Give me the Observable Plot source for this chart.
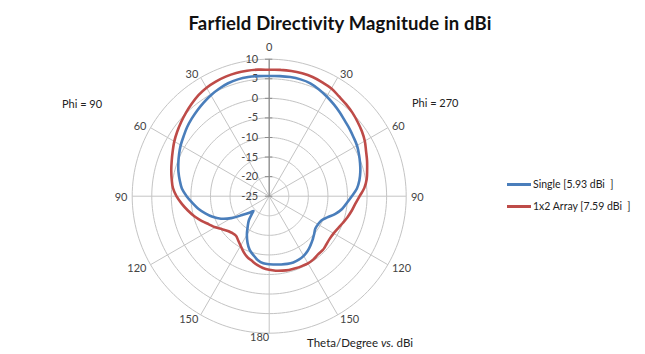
<!DOCTYPE html>
<html>
<head>
<meta charset="utf-8">
<script src="https://cdn.jsdelivr.net/npm/d3@7"></script>
<script src="https://cdn.jsdelivr.net/npm/@observablehq/plot@0.6"></script>
<style>
  body { margin: 0; background: #fff; }
  #chart { position: relative; width: 645px; height: 354px; overflow: hidden; font-family: Lato, "Open Sans", sans-serif; color: #222; }
  #chart svg { position: absolute; left: 0; top: 0; }
  .lbl { position: absolute; white-space: pre; font-size: 11px; line-height: 1; }
  .title { position: absolute; left: 0; width: 680px; text-align: center; top: 12px; font-size: 18.5px; letter-spacing: 0.15px; font-weight: 700; color: #111; }
  .legend { position: absolute; left: 507px; font-size: 10.5px; white-space: pre; line-height: 1; }
  .legend .sw { display: inline-block; width: 24px; height: 2.6px; vertical-align: middle; margin-right: 2px; position: relative; top: -1px; }
</style>
</head>
<body>
<div id="chart"></div>
<script>
// Elevation angle theta (degrees from boresight) for both phi cuts
const theta = [0, 5, 10, 15, 20, 25, 30, 35, 40, 45, 50, 55, 60, 65, 70, 75, 80, 85, 90,
  95, 100, 105, 110, 115, 120, 125, 130, 133, 135, 140, 145, 150, 155, 160, 165, 170, 175, 180];

// Directivity (dBi), Phi = 270 cut (right half) and Phi = 90 cut (left half)
const singlePhi270 = [5.7, 5.8, 5.9, 5.9, 5.7, 5.1, 4.4, 3.7, 3.0, 2.3, 1.8, 1.3, 0.9, 0.3, -0.3, -0.9, -1.6, -2.5, -3.9,
  -5.1, -6.1, -7.5, -9.2, -10.3, -10.6, -10.6, -10.0, -9.6, -9.3, -8.6, -7.9, -7.4, -7.1, -7.0, -7.1, -7.3, -7.5, -7.6];
const singlePhi90 = [5.7, 5.8, 5.9, 5.9, 5.7, 5.3, 4.8, 4.2, 3.6, 3.0, 2.4, 1.7, 1.1, 0.4, -0.3, -1.0, -1.8, -2.6, -3.9,
  -5.3, -6.6, -8.1, -9.6, -11.4, -13.8, -16.6, -18.4, -19.5, -18.9, -16.9, -15.4, -13.6, -11.9, -10.4, -9.4, -8.4, -7.8, -7.6];
const arrayPhi270 = [7.3, 7.4, 7.5, 7.5, 7.4, 7.1, 6.8, 6.1, 5.6, 5.1, 4.5, 3.9, 3.2, 2.3, 1.6, 0.9, 0.3, -0.6, -1.9,
  -2.9, -3.6, -4.3, -5.0, -5.6, -6.0, -6.1, -5.9, -5.7, -5.6, -5.6, -5.3, -5.2, -5.3, -5.4, -5.5, -5.7, -5.9, -6.2];
const arrayPhi90 = [7.3, 7.45, 7.55, 7.59, 7.5, 7.3, 7.0, 6.5, 5.8, 5.1, 4.4, 3.7, 3.0, 2.2, 1.5, 0.9, 0.3, -0.3, -1.3,
  -2.6, -3.9, -5.2, -6.6, -8.0, -9.1, -10.3, -11.2, -11.5, -11.7, -11.8, -11.2, -10.4, -9.4, -8.5, -7.9, -7.2, -6.6, -6.2];

const seriesNames = ["Single [5.93 dBi  ]", "1x2 Array [7.59 dBi  ]"];
const seriesColors = ["#4A7EBB", "#BE4B48"];

// Radial axis: dBi levels, -25 at the centre
const rMin = -25;
const rMax = 10;
const ringLevels = [-20, -15, -10, -5, 0, 5, 10];
const ringTickLabels = [-25, -20, -15, -10, -5, 0, 5, 10];

// Angular spokes every 30 degrees (angle measured clockwise from the top)
const spokeAngles = [0, 30, 60, 90, 120, 150, 180, 210, 240, 270, 300, 330];
const rightLabels = [30, 60, 90, 120, 150];   // Phi = 270 side
const leftLabels = [30, 60, 90, 120, 150];    // Phi = 90 side

const rad = Math.PI / 180;
const R = rMax - rMin;
const px = (a, r) => r * Math.sin(a * rad);
const py = (a, r) => r * Math.cos(a * rad);

// one closed outline per antenna: right half going down, left half coming back up
function outline(name, right, left) {
  const pts = [];
  theta.forEach((t, i) => pts.push({name, a: t, r: right[i] - rMin}));
  for (let i = theta.length - 2; i >= 1; i--) pts.push({name, a: 360 - theta[i], r: left[i] - rMin});
  return pts;
}
const curves = [
  outline(seriesNames[0], singlePhi270, singlePhi90),
  outline(seriesNames[1], arrayPhi270, arrayPhi90)
];

const rings = ringLevels.flatMap(v => d3.range(0, 361, 2).map(a => ({v, a, r: v - rMin})));

const cx = 268.7, cy = 195.7, radius = 137;
const W = 645, H = 354;

const plot = Plot.plot({
  width: W,
  height: H,
  marginLeft: cx - radius,
  marginRight: W - (cx + radius),
  marginTop: cy - radius,
  marginBottom: H - (cy + radius),
  x: {domain: [-R, R], axis: null},
  y: {domain: [-R, R], axis: null},
  style: {fontFamily: "Lato, 'Open Sans', sans-serif", fontSize: "11px", color: "#333", background: "transparent"},
  marks: [
    // concentric rings
    Plot.line(rings, {x: d => px(d.a, d.r), y: d => py(d.a, d.r), z: "v", stroke: "#C4C4C4", strokeWidth: 1}),
    // spokes
    Plot.link(spokeAngles, {x1: 0, y1: 0, x2: a => px(a, R), y2: a => py(a, R), stroke: "#C4C4C4", strokeWidth: 1}),
    // radial value axis along the 0° spoke
    Plot.link([0], {x1: 0, y1: 0, x2: 0, y2: R, stroke: "#8C8C8C", strokeWidth: 1.2}),
    Plot.link(ringTickLabels, {x1: -1.1, x2: 0.8, y1: v => v - rMin, y2: v => v - rMin, stroke: "#8C8C8C", strokeWidth: 1}),
    Plot.text(ringTickLabels, {x: 0, y: v => v - rMin, text: v => String(v), textAnchor: "end", dx: -11, fill: "#444", fontSize: 11}),
    // angular labels
    Plot.text([0], {x: 0, y: R, text: d => String(d), dy: -12, fill: "#444", fontSize: 11}),
    Plot.text([180], {x: 0, y: -R, text: d => String(d), textAnchor: "end", dy: 4, fill: "#444", fontSize: 11}),
    Plot.text(rightLabels, {x: a => px(a, R + 1.2), y: a => py(a, R + 1.2), text: a => String(a), textAnchor: "start", dy: 1, fill: "#444", fontSize: 11}),
    Plot.text(leftLabels, {x: a => px(360 - a, R + 1.2), y: a => py(360 - a, R + 1.2), text: a => String(a), textAnchor: "end", dy: 1, fill: "#444", fontSize: 11}),
    // directivity patterns
    ...curves.map((c, i) => Plot.line(c, {
      x: d => px(d.a, d.r), y: d => py(d.a, d.r),
      stroke: seriesColors[i], strokeWidth: 2.6, curve: "catmull-rom-closed"
    }))
  ]
});

const chart = document.getElementById("chart");
chart.appendChild(plot);

function addLabel(cls, text, left, top) {
  const el = document.createElement("div");
  el.className = cls;
  el.textContent = text;
  el.style.left = left + "px";
  el.style.top = top + "px";
  chart.appendChild(el);
  return el;
}

const title = document.createElement("div");
title.className = "title";
title.textContent = "Farfield Directivity Magnitude in dBi";
chart.appendChild(title);

addLabel("lbl", "Phi = 90", 62, 98);
addLabel("lbl", "Phi = 270", 412, 97);

const cap = document.createElement("div");
cap.className = "lbl";
cap.style.left = "307px";
cap.style.top = "337px";
cap.style.fontSize = "11.5px";
cap.innerHTML = "Theta/Degree <i>vs.</i> dBi";
chart.appendChild(cap);

seriesNames.forEach((name, i) => {
  const row = document.createElement("div");
  row.className = "legend";
  row.style.top = (179 + i * 22) + "px";
  const sw = document.createElement("span");
  sw.className = "sw";
  sw.style.background = seriesColors[i];
  row.appendChild(sw);
  row.appendChild(document.createTextNode(name));
  chart.appendChild(row);
});
</script>
</body>
</html>
